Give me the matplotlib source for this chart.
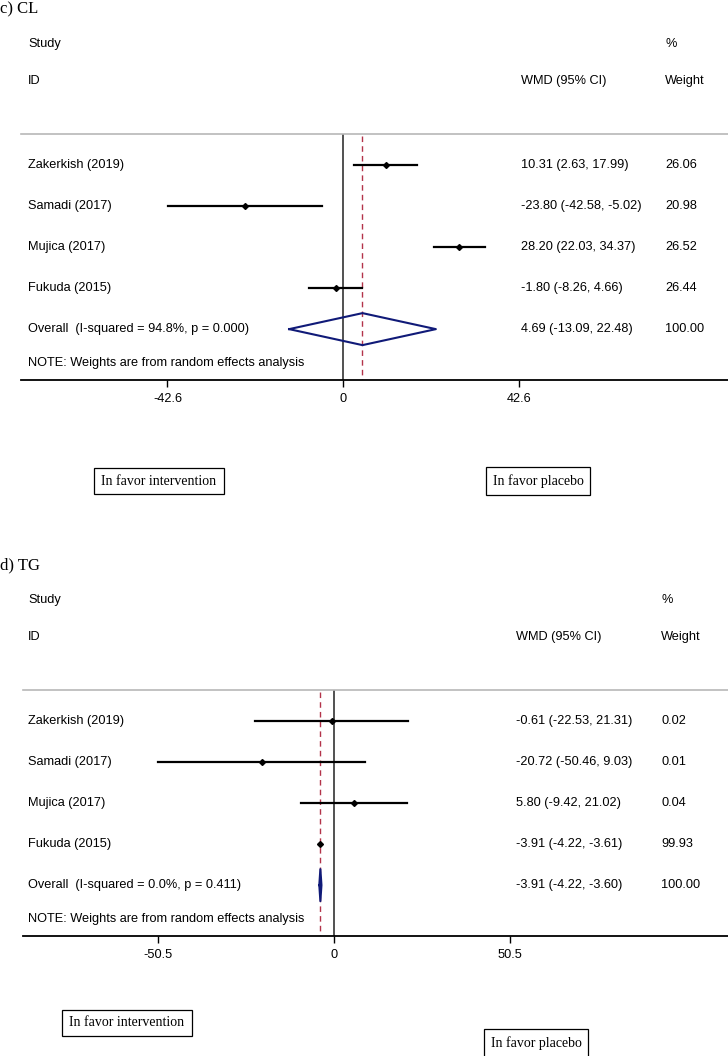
#!/usr/bin/env python3
# -*- coding: utf-8 -*-

import matplotlib
matplotlib.use("Agg")
import matplotlib.pyplot as plt
from matplotlib import transforms

# ---- data ----
studies = ["Zakerkish (2019)", "Samadi (2017)", "Mujica (2017)", "Fukuda (2015)"]

cl_wmd = [10.31, -23.80, 28.20, -1.80]
cl_lo = [2.63, -42.58, 22.03, -8.26]
cl_hi = [17.99, -5.02, 34.37, 4.66]
cl_weight = ["26.06", "20.98", "26.52", "26.44"]
cl_overall = [4.69, -13.09, 22.48]
cl_overall_label = "Overall  (I-squared = 94.8%, p = 0.000)"
cl_ticks = [-42.6, 0, 42.6]
cl_xlim = (-78.1, 93.3)

tg_wmd = [-0.61, -20.72, 5.80, -3.91]
tg_lo = [-22.53, -50.46, -9.42, -4.22]
tg_hi = [21.31, 9.03, 21.02, -3.61]
tg_weight = ["0.02", "0.01", "0.04", "99.93"]
tg_overall = [-3.91, -4.22, -3.60]
tg_overall_label = "Overall  (I-squared = 0.0%, p = 0.411)"
tg_ticks = [-50.5, 0, 50.5]
tg_xlim = (-89.2, 113.0)

W, H = 728, 1056
sans = ["Liberation Sans", "DejaVu Sans"]
serif = ["Liberation Serif", "DejaVu Serif"]
FS = 9.2


def fmt(v):
    return "%.2f" % v


def draw_panel(fig, off, title, wmd, lo, hi, weight, overall, overall_label,
               ticks, xlim, left_px, cols, boxes):
    # axes from header line to x axis (pixels)
    top, bottom = 134 + off, 380 + off
    ax = fig.add_axes([left_px / W, 1 - bottom / H, (W - left_px) / W,
                       (bottom - top) / H])
    ax.set_xlim(xlim)
    ax.set_ylim(5.24, -0.756)
    for s in ["left", "right"]:
        ax.spines[s].set_visible(False)
    ax.spines["top"].set_color("#b8b8b8")
    ax.spines["top"].set_linewidth(1.2)
    ax.spines["bottom"].set_linewidth(1.3)
    ax.set_yticks([])
    ax.set_xticks(ticks)
    ax.set_xticklabels(["%g" % t for t in ticks], fontfamily=sans, fontsize=FS)
    ax.tick_params(axis="x", length=5, width=1, pad=4)

    # zero line and overall dashed line
    ax.axvline(0, color="#222222", lw=1.1, zorder=1)
    ax.plot([overall[0], overall[0]], [-0.7, 5.24], color="#b3334a", lw=1,
            ls=(0, (4, 3)), zorder=1)

    rows = list(range(len(wmd)))
    for i in rows:
        ax.plot([lo[i], hi[i]], [i, i], color="black", lw=1.6, zorder=3)
        ax.plot(wmd[i], i, marker="D", color="black", ms=3, zorder=4)

    yo = len(wmd)
    ax.plot([overall[1], overall[0], overall[2], overall[0], overall[1]],
            [yo, yo - 0.39, yo, yo + 0.39, yo], color="#101a78", lw=1.5,
            zorder=4)

    tr = transforms.blended_transform_factory(ax.transAxes, ax.transData)
    xs, xw, xp = cols
    for i in rows:
        ax.text(xs, i, studies[i], transform=tr, fontfamily=sans,
                fontsize=FS, va="center")
        ax.text(xw, i, "%s (%s, %s)" % (fmt(wmd[i]), fmt(lo[i]), fmt(hi[i])),
                transform=tr, fontfamily=sans, fontsize=FS, va="center")
        ax.text(xp, i, weight[i], transform=tr, fontfamily=sans,
                fontsize=FS, va="center")
    ax.text(xs, yo, overall_label, transform=tr, fontfamily=sans,
            fontsize=FS, va="center")
    ax.text(xw, yo, "%s (%s, %s)" % (fmt(overall[0]), fmt(overall[1]),
                                     fmt(overall[2])),
            transform=tr, fontfamily=sans, fontsize=FS, va="center")
    ax.text(xp, yo, "100.00", transform=tr, fontfamily=sans, fontsize=FS,
            va="center")
    ax.text(xs, 4.83, "NOTE: Weights are from random effects analysis",
            transform=tr, fontfamily=sans, fontsize=FS, va="center")

    # column headers
    ax.text(xs, -2.95, "Study", transform=tr, fontfamily=sans, fontsize=FS,
            va="center", clip_on=False)
    ax.text(xp, -2.95, "%", transform=tr, fontfamily=sans, fontsize=FS,
            va="center", clip_on=False)
    ax.text(xs, -2.05, "ID", transform=tr, fontfamily=sans, fontsize=FS,
            va="center", clip_on=False)
    ax.text(xw, -2.05, "WMD (95% CI)", transform=tr, fontfamily=sans,
            fontsize=FS, va="center", clip_on=False)
    ax.text(xp, -2.05, "Weight", transform=tr, fontfamily=sans, fontsize=FS,
            va="center", clip_on=False)

    # panel title
    fig.text(0, 1 - (9 + off) / H, title, fontfamily=serif, fontsize=12,
             va="center", ha="left")

    # favour boxes
    for label, cx, cy in boxes:
        fig.text(cx / W, 1 - cy / H, label, fontfamily=serif, fontsize=10,
                 ha="center", va="center",
                 bbox=dict(boxstyle="square,pad=0.5", fc="white",
                           ec="black", lw=0.9))


fig = plt.figure(figsize=(W / 100, H / 100), dpi=100)

draw_panel(fig, 0, "c) CL", cl_wmd, cl_lo, cl_hi, cl_weight, cl_overall,
           cl_overall_label, cl_ticks, cl_xlim, 21, (0.01, 0.707, 0.911),
           [("In favor intervention", 159, 481),
            ("In favor placebo", 538, 481)])
draw_panel(fig, 556, "d) TG", tg_wmd, tg_lo, tg_hi, tg_weight, tg_overall,
           tg_overall_label, tg_ticks, tg_xlim, 23, (0.007, 0.70, 0.905),
           [("In favor intervention", 127, 1023),
            ("In favor placebo", 536, 1043)])

plt.savefig("out.png", dpi=100)
